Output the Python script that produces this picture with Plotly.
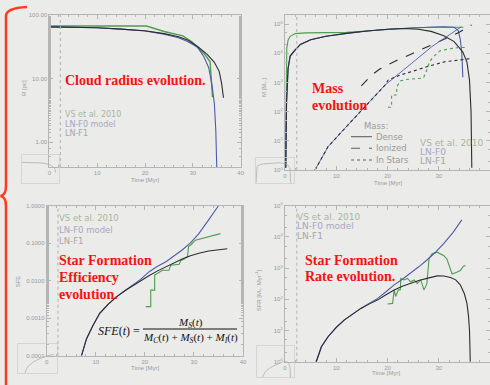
import plotly.graph_objects as go

W, H = 490, 385

# ---------------- data ----------------
# Panel 1: cloud radius R [pc] vs time [Myr]
r_t_vs = [0, 5, 10, 15, 20.3, 24, 27.9, 29.8, 31.5, 32.6, 33.6, 34.1]
r_vs = [67, 67, 67, 67, 67, 55, 47, 38, 29, 23.5, 18.4, 5.1]
r_t_f0 = [0, 5, 10, 15, 20, 24, 27, 29, 31, 32.3, 33.3, 34.0, 34.5, 34.8, 35.0]
r_f0 = [65, 64.5, 63, 60, 56, 50, 44, 38, 31, 22, 15, 8, 4, 1.5, 0.4]
r_t_f1 = [0, 5, 10, 15, 20, 24, 27, 29, 31, 33, 34.5, 35.5, 36, 36.4]
r_f1 = [65, 64.5, 63, 60, 56.5, 51, 45.5, 40, 32, 24, 18, 13, 8.5, 5]

# Panel 2: masses [Msun]
md_t_vs = [0.1, 0.2, 0.35, 0.6, 1.0, 2, 4, 8, 12, 16, 20, 25, 30, 34, 34.8]
md_vs = [1.5, 300, 15000, 28000, 38000, 47000, 50000, 51000, 52000, 58000, 66000, 75000, 78000, 78000, 78000]
md_t_f0 = [0.15, 0.3, 0.6, 1, 2, 3, 5, 8, 12, 16, 20, 23, 26, 29, 31, 33, 33.8, 34.2, 34.5, 34.7]
md_f0 = [1.2, 200, 3000, 8000, 13000, 20000, 29000, 38000, 48000, 58000, 66000, 71000, 75000, 79000, 80000, 78000, 60000, 30000, 10000, 1500]
md_t_f1 = [0.15, 0.3, 0.6, 1.0, 2.0, 3.0, 5.0, 8.0, 12, 16, 20, 23, 26, 28.5, 31, 33, 34.7, 35.5, 36.0, 36.3, 36.45]
md_f1 = [1.2, 200, 3000, 8000, 13000, 20000, 29000, 38000, 48000, 58000, 66000, 70000, 66000, 56000, 40000, 25000, 11000, 5000, 1200, 100, 1.2]
mi_t_f1 = [14.9, 16, 17, 18.5, 20, 22, 25, 28, 31.5, 34, 36.4]
mi_f1 = [760, 1260, 1860, 2880, 3980, 5900, 10000, 17000, 32000, 52000, 93000]
ms_t_vs = [20.1, 20.8, 20.8, 21.8, 21.8, 22.5, 23.5, 25, 27, 27.5, 28.2, 28.8, 30.2, 32, 34, 35.4]
ms_vs = [141, 141, 372, 372, 708, 1120, 1260, 1320, 1410, 2240, 5000, 7080, 12000, 14100, 15800, 15800]
ms_t_f0 = [5.85, 8.4, 11.7, 14.9, 19.5, 24.7, 28.6, 32.5, 34.4]
ms_f0 = [1.0, 6.3, 27, 112, 810, 4500, 16600, 48000, 81000]
ms_t_f1 = [5.85, 8.4, 11.7, 14.9, 19.5, 20.1, 22.5, 24.7, 28, 31.2, 34, 36.4]
ms_f1 = [1.0, 6.3, 27, 112, 800, 1200, 1800, 2340, 3600, 5100, 6000, 6600]

# Panel 3: star formation efficiency
sfe_t_f0 = [7.1, 8.1, 9.4, 10.8, 12.5, 14.2, 16, 17.5, 19, 20.9, 22.5, 24.3, 26, 27.6, 29.3, 31, 33, 35]
sfe_f0 = [0.0001, 0.00028, 0.00063, 0.00135, 0.00234, 0.0037, 0.0055, 0.0076, 0.0105, 0.0174, 0.024, 0.032, 0.046, 0.066, 0.102, 0.18, 0.42, 1.0]
sfe_t_f1 = [7.1, 8.1, 9.4, 10.8, 12.5, 14.2, 16, 17.5, 19, 20.9, 22.5, 24.3, 26, 27.6, 29.3, 31, 33, 35, 36.8]
sfe_f1 = [0.0001, 0.00028, 0.00063, 0.00135, 0.00234, 0.0037, 0.0055, 0.0074, 0.0100, 0.0138, 0.018, 0.0234, 0.030, 0.038, 0.046, 0.054, 0.062, 0.068, 0.071]
sfe_t_vs = [20.2, 21.2, 21.2, 22.0, 22.0, 22.6, 23.6, 24.9, 25.3, 27.0, 27.3, 28.0, 28.7, 28.9, 29.4, 30.3, 31.7, 35.4]
sfe_vs = [0.00204, 0.00204, 0.0056, 0.0056, 0.0141, 0.0158, 0.019, 0.019, 0.026, 0.0275, 0.034, 0.038, 0.044, 0.081, 0.091, 0.12, 0.135, 0.18]

# Panel 4: star formation rate [Msun/Myr]
sfr_t_f0 = [6.1, 7.1, 8.4, 10, 11.6, 13.2, 14.8, 16.4, 18.1, 19.7, 21.3, 22.9, 24.5, 26.1, 27.7, 29.3, 31, 32.8, 34.5]
sfr_f0 = [1.0, 3.0, 6.3, 12.6, 22, 34, 51, 74, 107, 174, 290, 440, 680, 1100, 1820, 3160, 6200, 14000, 35000]
sfr_t_f1 = [6.1, 7.1, 8.4, 10, 11.6, 13.2, 14.8, 16.4, 18.1, 19.7, 21.3, 22.9, 24.5, 26.1, 27.7, 29.7, 31, 32.3, 33.3, 34.2, 35, 35.5, 35.8, 36, 36.15]
sfr_f1 = [1.0, 3.0, 6.3, 12.6, 22, 34, 51, 70, 96, 140, 200, 260, 324, 400, 468, 562, 560, 500, 420, 290, 150, 74, 30, 10, 1.0]
sfr_t_vs = [20.0, 21.0, 21.3, 21.6, 22.1, 22.5, 22.6, 23.2, 23.9, 24.5, 25.2, 25.8, 26.5, 27.1, 27.4, 27.7, 28.1, 28.7, 29.7, 30.3, 31.0, 31.6, 32.6, 33.5, 34.2, 34.8, 35.2]
sfr_vs = [71, 74, 200, 123, 200, 200, 468, 417, 468, 363, 417, 324, 417, 200, 250, 324, 2000, 2900, 3240, 2900, 2500, 1950, 650, 740, 830, 1150, 1200]

t_ticks = [0, 10, 20, 30, 40]
t_marker = 2.3
legend_names = ["VS et al. 2010", "LN-F0 model", "LN-F1"]

# ---------------- style ----------------
BG = "#ebebe9"
C_BLACK = "#2c2c34"
C_BLUE = "#4d5ca8"
C_GREEN = "#4f9d4f"
FRAME = "#b5b5b5"
TICKF = dict(family="Liberation Sans", size=6, color="#9a9a9a")


def px(x):
    return x / W


def py(y):
    return 1 - y / H


def suf(i):
    return "" if i == 1 else str(i)


fig = go.Figure()


def add(i, x, y, color, dash="solid", width=1.1):
    fig.add_trace(go.Scatter(x=x, y=y, mode="lines", xaxis=f"x{suf(i)}", yaxis=f"y{suf(i)}",
                             line=dict(color=color, width=width, dash=dash),
                             showlegend=False, hoverinfo="skip", cliponaxis=True))


# panel 1
add(1, r_t_vs, r_vs, C_GREEN, width=1.4)
add(1, r_t_f0, r_f0, C_BLUE)
add(1, r_t_f1, r_f1, C_BLACK)
# panel 2
add(2, md_t_vs, md_vs, C_GREEN)
add(2, md_t_f0, md_f0, C_BLUE)
add(2, md_t_f1, md_f1, C_BLACK)
add(2, mi_t_f1, mi_f1, C_BLACK, dash="dash")
add(2, ms_t_vs, ms_vs, C_GREEN, dash="dot")
add(2, ms_t_f0, ms_f0, C_BLUE, width=0.9)
add(2, ms_t_f1, ms_f1, C_BLACK, dash="dot")
# panel 3
add(3, sfe_t_vs, sfe_vs, C_GREEN)
add(3, sfe_t_f0, sfe_f0, C_BLUE)
add(3, sfe_t_f1, sfe_f1, C_BLACK)
# panel 4
add(4, sfr_t_vs, sfr_vs, C_GREEN)
add(4, sfr_t_f0, sfr_f0, C_BLUE)
add(4, sfr_t_f1, sfr_f1, C_BLACK)
# faint thumbnails (insets)
add(5, r_t_f1, r_f1, "#b0b0b0", width=0.8)
add(6, md_t_f1, md_f1, "#b0b0b0", width=0.8)
add(7, sfe_t_f1, sfe_f1, "#b0b0b0", width=0.8)
add(8, sfr_t_f1, sfr_f1, "#b0b0b0", width=0.8)


def xax(dom, anchor):
    return dict(domain=dom, range=[0, 40], anchor=anchor, showline=True, linecolor=FRAME,
                linewidth=1, mirror="ticks", ticks="inside", ticklen=4, tickcolor=FRAME,
                showgrid=False, zeroline=False, tickvals=t_ticks, tickfont=TICKF,
                automargin=False,
                minor=dict(ticks="inside", ticklen=2, tickcolor=FRAME, dtick=2))


def yax(dom, rng, anchor, vals, texts):
    return dict(domain=dom, range=rng, type="log", anchor=anchor, showline=True,
                linecolor=FRAME, linewidth=1, mirror="ticks", ticks="inside", ticklen=4,
                tickcolor=FRAME, showgrid=False, zeroline=False, tickvals=vals,
                ticktext=texts, tickfont=TICKF, automargin=False,
                minor=dict(ticks="inside", ticklen=2, tickcolor=FRAME))


def inset_ax(dom, rng=None, log=False, anchor=None):
    d = dict(domain=dom, anchor=anchor, showline=True, linecolor="#cfcfcf", mirror=True,
             linewidth=0.8, showticklabels=False, ticks="", showgrid=False, zeroline=False,
             automargin=False)
    if rng is not None:
        d["range"] = rng
    if log:
        d["type"] = "log"
    return d


p10 = [10 ** k for k in range(6)]
p10_txt = [f"10<sup>{k}</sup>" for k in range(6)]

fig.update_layout(
    width=W, height=H, margin=dict(l=0, r=0, t=0, b=0, autoexpand=False),
    paper_bgcolor=BG, plot_bgcolor="rgba(0,0,0,0)", showlegend=False,
    xaxis=xax([px(49.3), px(240.7)], "y"),
    yaxis=yax([py(167), py(15)], [-0.39, 2], "x", [1, 10, 100], ["1.00", "10.00", "100.00"]),
    xaxis2=xax([px(285), 1.0], "y2"),
    yaxis2=yax([py(170), py(15)], [0, 5.31], "x2", p10, p10_txt),
    xaxis3=xax([px(46.7), px(243)], "y3"),
    yaxis3=yax([py(355.7), py(205.7)], [-4, 0], "x3",
               [1e-4, 1e-3, 1e-2, 1e-1, 1],
               ["0.0001", "0.0010", "0.0100", "0.1000", "1.0000"]),
    xaxis4=xax([px(285), 1.0], "y4"),
    yaxis4=yax([py(361.7), py(205.7)], [0, 5], "x4", p10[:6], p10_txt[:6]),
    xaxis5=inset_ax([px(22), px(59)], [0, 40], anchor="y5"),
    yaxis5=inset_ax([py(183), py(155)], [-0.4, 2.6], True, anchor="x5"),
    xaxis6=inset_ax([px(256), px(294)], [0, 40], anchor="y6"),
    yaxis6=inset_ax([py(183), py(158)], [0, 6], True, anchor="x6"),
    xaxis7=inset_ax([px(18), px(57)], [0, 40], anchor="y7"),
    yaxis7=inset_ax([py(373), py(344)], [-4, 0.5], True, anchor="x7"),
    xaxis8=inset_ax([px(257), px(294)], [0, 40], anchor="y8"),
    yaxis8=inset_ax([py(377), py(346)], [0, 5.5], True, anchor="x8"),
)

shapes = []
# dotted time markers
for i in range(1, 5):
    shapes.append(dict(type="line", xref=f"x{suf(i)}", yref=f"y{suf(i)} domain", x0=t_marker,
                       x1=t_marker, y0=0, y1=1, line=dict(color="#b0b0b0", width=1, dash="dot")))

# legend samples in panel 2
for yy, dash in [(136.7, "solid"), (148.3, "dash"), (160, "dot")]:
    shapes.append(dict(type="line", xref="paper", yref="paper", x0=px(351), x1=px(372),
                       y0=py(yy), y1=py(yy), line=dict(color="#606060", width=1.1, dash=dash)))

# fraction bar of the formula
shapes.append(dict(type="line", xref="paper", yref="paper", x0=px(143), x1=px(237),
                   y0=py(329), y1=py(329), line=dict(color="#111111", width=1)))


# red curly brace
def P(x, y):
    return f"{px(x):.5f},{py(y):.5f}"


brace = (f"M {P(27, 7)} Q {P(6, 8)} {P(6, 16)} L {P(6, 186)} "
         f"Q {P(6, 195)} {P(0.5, 196)} Q {P(6, 197)} {P(6, 206)} L {P(6, 386)}")
shapes.append(dict(type="path", xref="paper", yref="paper", path=brace,
                   line=dict(color="#ff3b1f", width=2.5)))
fig.update_layout(shapes=shapes)

ann = []


def text(x, y, s, size=8, color="#999999", family="DejaVu Sans", xanchor="left", angle=0):
    ann.append(dict(x=px(x), y=py(y), xref="paper", yref="paper", text=s, showarrow=False,
                    xanchor=xanchor, yanchor="middle", textangle=angle,
                    font=dict(size=size, color=color, family=family)))


LEG_COL = ["#a7b79f", "#a5a8c2", "#a6a6a6"]

# legends
for k, yy in enumerate([114.3, 124.3, 133.7]):
    text(63.3, yy, legend_names[k], 8, LEG_COL[k])
for k, yy in enumerate([218.3, 230, 241]):
    text(56.7, yy, legend_names[k], 8.5, LEG_COL[k])
for k, yy in enumerate([216.5, 226, 236]):
    text(295, yy, legend_names[k], 9, LEG_COL[k])
text(418.3, 142.7, legend_names[0], 9, LEG_COL[0])
text(418.3, 151.7, "LN-F0", 9, LEG_COL[1])
text(418.3, 160.7, "LN-F1", 9, LEG_COL[2])
text(361.7, 126, "Mass:", 8.5, "#9a9a9a")
text(374.3, 136.7, "Dense", 8.5, "#9a9a9a")
text(374.3, 148.3, "Ionized", 8.5, "#9a9a9a")
text(374.3, 160, "In Stars", 8.5, "#9a9a9a")

# axis titles
text(145, 179.5, "Time [Myr]", 6, "#9a9a9a", "Liberation Sans", "center")
text(388, 183, "Time [Myr]", 6, "#9a9a9a", "Liberation Sans", "center")
text(145, 368, "Time [Myr]", 6, "#9a9a9a", "Liberation Sans", "center")
text(386, 373, "Time [Myr]", 6, "#9a9a9a", "Liberation Sans", "center")
text(24, 88, "R [pc]", 6, "#9a9a9a", "Liberation Sans", "center", -90)
text(265, 88, "M [M<sub>☉</sub>]", 6, "#9a9a9a", "Liberation Sans", "center", -90)
text(18.3, 281, "SFE", 6, "#9a9a9a", "Liberation Sans", "center", -90)
text(258.3, 290, "SFR [M<sub>☉</sub> Myr<sup>-1</sup>]", 6, "#9a9a9a", "Liberation Sans", "center", -90)

# red slide annotations
RED = "#f21414"
SERIF = "Liberation Serif"
text(63, 80.7, "<b>Cloud radius evolution.</b>", 14, RED, SERIF)
text(310, 88.3, "<b>Mass</b>", 14, RED, SERIF)
text(310, 106, "<b>evolution</b>", 14, RED, SERIF)
text(56.5, 260.7, "<b>Star Formation</b>", 14, RED, SERIF)
text(56.5, 277.7, "<b>Efficiency</b>", 14, RED, SERIF)
text(56.5, 294.3, "<b>evolution.</b>", 14, RED, SERIF)
text(303, 260, "<b>Star Formation</b>", 14, RED, SERIF)
text(303, 276.7, "<b>Rate evolution.</b>", 14, RED, SERIF)

# formula
text(142, 330.7, "<i>SFE</i>(<i>t</i>) =", 12, "#111111", SERIF, "right")
text(190, 323, "<i>M<sub>S</sub></i>(<i>t</i>)", 11, "#111111", SERIF, "center")
text(190, 337.5, "<i>M<sub>C</sub></i>(<i>t</i>) + <i>M<sub>S</sub></i>(<i>t</i>) + <i>M<sub>I</sub></i>(<i>t</i>)",
     11, "#111111", SERIF, "center")

fig.update_layout(annotations=ann)
fig.write_html(
    "out.html",
    config={"displayModeBar": False, "staticPlot": True},
    post_script="document.body.style.margin='0px';document.body.style.background='#ebebe9';",
)
